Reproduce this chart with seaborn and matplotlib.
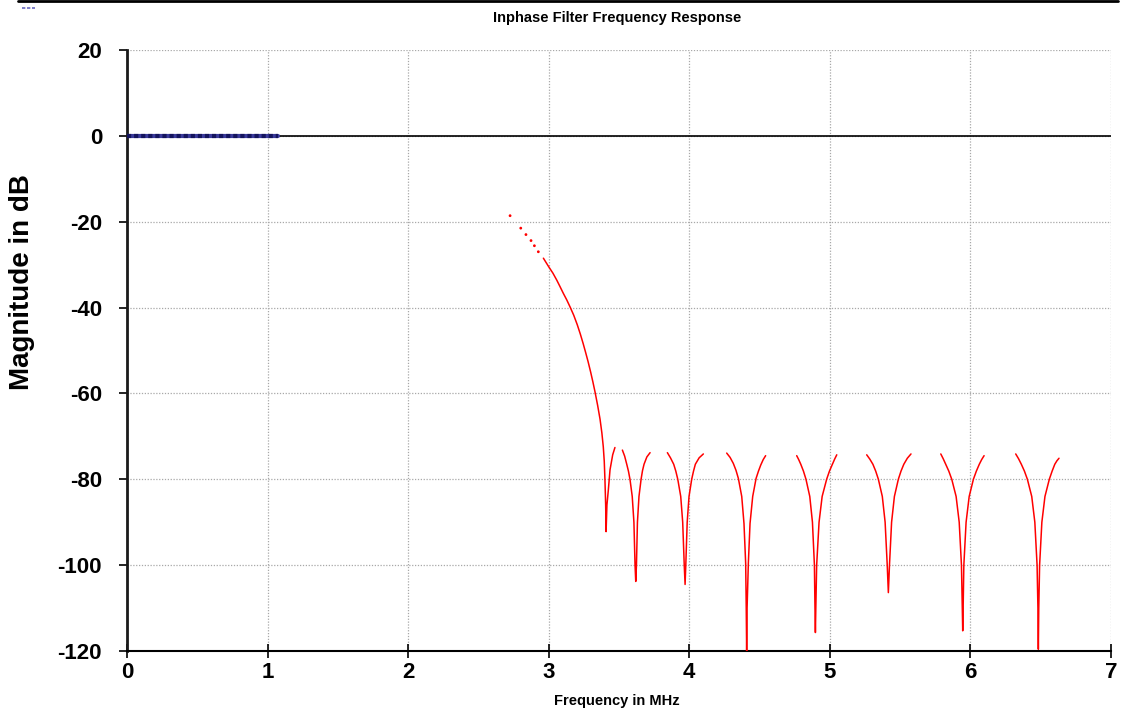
import numpy as np
import pandas as pd
import matplotlib
matplotlib.use("Agg")
import matplotlib.pyplot as plt
from matplotlib.lines import Line2D
import seaborn as sns

# ---------------- data ----------------
# passband (blue, 0 dB)
pass_freq = [0.0, 1.074]
pass_mag = [0.0, 0.0]

# start of the transition band drawn as sparse dots
dots_freq = [2.725, 2.801, 2.838, 2.874, 2.898, 2.926]
dots_mag = [-18.6, -21.5, -23.0, -24.4, -25.6, -27.0]

# transition band + first notch
seg1_freq = [2.962, 3.000, 3.030, 3.057, 3.080, 3.104, 3.128, 3.151, 3.178, 3.203, 3.225,
             3.245, 3.262, 3.280, 3.298, 3.314, 3.329, 3.348, 3.365, 3.378, 3.388, 3.395,
             3.400, 3.405, 3.408, 3.414, 3.424, 3.436, 3.455, 3.471]
seg1_mag = [-28.5, -30.5, -32.0, -33.6, -35.1, -36.7, -38.2, -39.8, -41.8, -44.0, -46.2,
            -48.4, -50.4, -52.6, -55.0, -57.3, -59.6, -62.8, -66.0, -69.2, -72.4, -75.8,
            -80.2, -86.0, -92.2, -86.0, -82.5, -77.8, -74.3, -72.6]

seg2_freq = [3.524, 3.540, 3.555, 3.567, 3.578, 3.594, 3.606, 3.614, 3.619, 3.624, 3.631, 3.642, 3.657, 3.667, 3.678, 3.698, 3.721]
seg2_mag = [-73.2, -74.6, -76.5, -78.1, -80.0, -84.0, -90.0, -100.0, -103.8, -100.0, -90.0, -84.0, -80.0, -78.0, -76.5, -74.8, -73.8]

seg3_freq = [3.844, 3.866, 3.889, 3.904, 3.918, 3.939, 3.953, 3.964, 3.970, 3.975, 3.985, 3.998, 4.017, 4.030, 4.043, 4.070, 4.100]
seg3_mag = [-73.8, -75.0, -76.5, -78.1, -80.0, -84.0, -90.0, -100.0, -104.5, -100.0, -90.0, -84.0, -80.0, -78.1, -76.5, -75.0, -74.1]

seg4_freq = [4.266, 4.290, 4.313, 4.332, 4.349, 4.373, 4.389, 4.401, 4.405, 4.408, 4.411, 4.420, 4.432, 4.451, 4.475, 4.492, 4.508, 4.526, 4.543]
seg4_mag = [-73.9, -74.9, -76.3, -77.9, -79.8, -84.0, -90.3, -99.6, -110.0, -120.0, -110.0, -99.6, -90.3, -84.0, -79.8, -78.1, -76.7, -75.4, -74.5]

seg5_freq = [4.764, 4.778, 4.793, 4.812, 4.830, 4.857, 4.876, 4.890, 4.894, 4.897, 4.900, 4.906, 4.923, 4.945, 4.977, 4.997, 5.018, 5.034, 5.049]
seg5_mag = [-74.5, -75.4, -76.5, -78.1, -80.0, -84.0, -90.0, -100.0, -110.0, -115.7, -110.0, -100.0, -90.0, -84.0, -80.0, -78.1, -76.5, -75.3, -74.3]

seg6_freq = [5.262, 5.284, 5.306, 5.326, 5.345, 5.373, 5.393, 5.408, 5.416, 5.424, 5.439, 5.459, 5.487, 5.506, 5.526, 5.551, 5.577]
seg6_mag = [-74.3, -75.3, -76.5, -78.1, -80.0, -84.0, -90.0, -100.0, -106.4, -100.0, -90.0, -84.0, -80.0, -78.1, -76.5, -75.1, -74.1]

seg7_freq = [5.789, 5.806, 5.824, 5.846, 5.867, 5.898, 5.920, 5.936, 5.942, 5.945, 5.948, 5.953, 5.969, 5.991, 6.021, 6.042, 6.063, 6.080, 6.097]
seg7_mag = [-74.1, -75.2, -76.5, -78.1, -80.0, -84.0, -90.0, -100.0, -110.0, -115.3, -110.0, -100.0, -90.0, -84.0, -80.0, -78.1, -76.5, -75.4, -74.5]

seg8_freq = [6.322, 6.342, 6.362, 6.384, 6.405, 6.436, 6.458, 6.474, 6.480, 6.483, 6.486, 6.492, 6.508, 6.530, 6.561, 6.581, 6.600, 6.615, 6.630]
seg8_mag = [-74.1, -75.2, -76.5, -78.1, -80.0, -84.0, -90.0, -100.0, -110.0, -119.6, -110.0, -100.0, -90.0, -84.0, -80.0, -78.1, -76.5, -75.7, -75.1]

x_ticks = [0, 1, 2, 3, 4, 5, 6, 7]
y_ticks = [20, 0, -20, -40, -60, -80, -100, -120]

title_text = "Inphase Filter Frequency Response"
xlabel_text = "Frequency in MHz"
ylabel_text = "Magnitude in dB"

# ---------------- build tables ----------------
segs = [(seg1_freq, seg1_mag), (seg2_freq, seg2_mag), (seg3_freq, seg3_mag),
        (seg4_freq, seg4_mag), (seg5_freq, seg5_mag), (seg6_freq, seg6_mag),
        (seg7_freq, seg7_mag), (seg8_freq, seg8_mag)]
rows = []
for i, (f, m) in enumerate(segs):
    for a, b in zip(f, m):
        rows.append({"freq": a, "mag": b, "seg": i})
stop_df = pd.DataFrame(rows)
dots_df = pd.DataFrame({"freq": dots_freq, "mag": dots_mag})
pass_df = pd.DataFrame({"freq": pass_freq, "mag": pass_mag})

# ---------------- plot ----------------
sns.set_theme(style="white")
plt.rcParams["font.family"] = ["Liberation Sans", "DejaVu Sans"]
plt.rcParams["axes.unicode_minus"] = False
plt.rcParams["text.color"] = "black"
plt.rcParams["axes.labelcolor"] = "black"
plt.rcParams["xtick.color"] = "black"
plt.rcParams["ytick.color"] = "black"

fig = plt.figure(figsize=(11.21, 7.11), dpi=100)
ax = fig.add_axes([0.1133, 0.0844, 0.9911 - 0.1133, 0.9297 - 0.0844])

ax.set_xlim(0, 7)
ax.set_ylim(-120, 20)
ax.set_xticks(x_ticks)
ax.set_yticks(y_ticks)
ax.grid(True, color="#a8a8a8", linestyle=(0, (1, 1.3)), linewidth=0.9)
ax.set_axisbelow(True)

ax.axhline(0, color="black", linewidth=1.2, zorder=2)

sns.lineplot(data=stop_df, x="freq", y="mag", units="seg", estimator=None,
             sort=False, color="#ff0000", linewidth=1.1, ax=ax, zorder=3)
sns.scatterplot(data=dots_df, x="freq", y="mag", color="#ff0000", s=4,
                edgecolor="none", ax=ax, zorder=3)
sns.lineplot(data=pass_df, x="freq", y="mag", color="#3a3a9a", linewidth=3.0,
             ax=ax, zorder=4)
sns.lineplot(data=pass_df, x="freq", y="mag", color="#14145e", linewidth=3.0,
             linestyle=(0, (1.0, 0.7)), ax=ax, zorder=5)

for s in ["top", "right"]:
    ax.spines[s].set_visible(False)
ax.spines["left"].set_color("#1a1a1a")
ax.spines["left"].set_linewidth(2.0)
ax.spines["bottom"].set_color("black")
ax.spines["bottom"].set_linewidth(1.5)

ax.tick_params(axis="y", direction="out", length=6, width=1.2, color="black",
               labelsize=16, pad=12, left=True, labelcolor="black")
ax.tick_params(axis="x", direction="inout", length=10, width=1.2, color="black",
               labelsize=16, pad=3, bottom=True, labelcolor="black")
for lab in ax.get_xticklabels() + ax.get_yticklabels():
    lab.set_fontweight("bold")

ax.set_xlabel("")
ax.set_ylabel("")
fig.text(617 / 1121, 1 - 701 / 711, xlabel_text, fontsize=10.5, fontweight="bold",
         ha="center", va="center", color="black")
fig.text(22 / 1121, 1 - 282 / 711, ylabel_text, fontsize=20, fontweight="bold",
         ha="center", va="center", rotation=90, color="black")
fig.text(617 / 1121, 1 - 18 / 711, title_text, fontsize=10.5, fontweight="bold",
         ha="center", va="center", color="black")

# decorative top rule and small legend remnant
fig.add_artist(Line2D([18 / 1121, 1118 / 1121], [1 - 1 / 711, 1 - 1 / 711],
                      color="black", linewidth=2, transform=fig.transFigure))
fig.add_artist(Line2D([22 / 1121, 35 / 1121], [1 - 8 / 711, 1 - 8 / 711],
                      color="#6a6ac0", linewidth=1.2, linestyle=(0, (2, 1)),
                      transform=fig.transFigure))

fig.savefig("out.png", dpi=100)
